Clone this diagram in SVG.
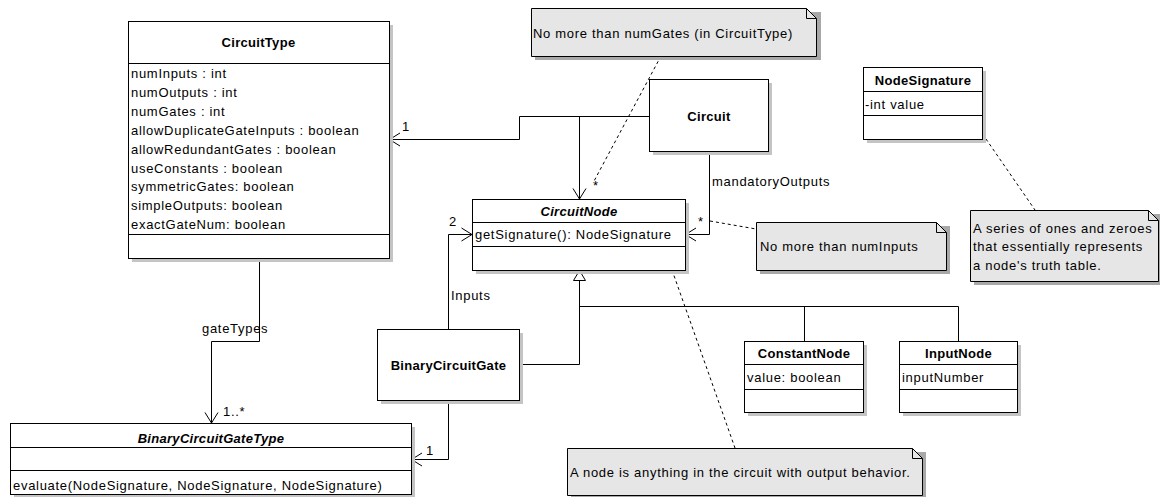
<svg xmlns="http://www.w3.org/2000/svg" width="1160" height="497" viewBox="0 0 1160 497">
<defs>
<style>
text{font-family:"Liberation Sans",Arial,sans-serif;font-size:13px;letter-spacing:0.7px;fill:#000}
.t{font-weight:bold;text-anchor:middle;letter-spacing:0.3px}
.ti{font-weight:bold;font-style:italic;text-anchor:middle;letter-spacing:0.3px}
.box{fill:#fff;stroke:#000;stroke-width:1}
.sh{fill:#c4c4c4}
.nsh{fill:#a8a8a8}
.note{fill:#e6e6e6;stroke:#000;stroke-width:1}
.fold{fill:none;stroke:#000;stroke-width:1}
.div{stroke:#000;stroke-width:1}
.ln{fill:none;stroke:#000;stroke-width:1}
.dash{fill:none;stroke:#000;stroke-width:1;stroke-dasharray:3,3}
</style>
</defs>
<rect width="1160" height="497" fill="#fff"/>

<g id="connectors">
<path class="ln" d="M649.5,116.5 H519.5 V139.5 H389.5"/>
<path class="ln" d="M400,133 L389.5,139.5 L400,146"/>
<path class="ln" d="M579.5,116.5 V199"/>
<path class="ln" d="M573,188.5 L579.5,199 L586,188.5"/>
<path class="ln" d="M709.5,151 V234.5 H685.5"/>
<path class="ln" d="M696,228 L685.5,234.5 L696,241"/>
<path class="ln" d="M448.5,329 V234.5 H472"/>
<path class="ln" d="M461.5,228 L472,234.5 L461.5,241"/>
<path class="ln" d="M448.5,400 V459.5 H411.5"/>
<path class="ln" d="M422,453 L411.5,459.5 L422,466"/>
<path class="ln" d="M259.5,258 V341.5 H211.5 V423"/>
<path class="ln" d="M205,412.5 L211.5,423 L218,412.5"/>
<path class="ln" d="M519,364.5 H579.5 V280"/>
<path class="ln" d="M804.5,341 V306.5 M958.5,341 V306.5 H579.5"/>
<path fill="#fff" stroke="#000" d="M579.5,270.5 L573.5,280.5 L585.5,280.5 Z"/>
<path class="dash" d="M661,56 L593,183"/>
<path class="dash" d="M710,221 L756,229"/>
<path class="dash" d="M986,139 L1035,210"/>
<path class="dash" d="M672,270 L735,448"/>
<text x="402" y="131">1</text>
<text x="593" y="190">*</text>
<text x="712" y="186">mandatoryOutputs</text>
<text x="698" y="226">*</text>
<text x="449" y="226">2</text>
<text x="451" y="300">Inputs</text>
<text x="202" y="333">gateTypes</text>
<text x="223" y="416">1..*</text>
<text x="426" y="455">1</text>
</g>

<g id="CircuitType">
<rect class="sh" x="132" y="25" width="261" height="237"/>
<rect class="box" x="128.5" y="21.5" width="261" height="237"/>
<line class="div" x1="128.5" y1="63.5" x2="389.5" y2="63.5"/>
<line class="div" x1="128.5" y1="234.5" x2="389.5" y2="234.5"/>
<text class="t" x="258.5" y="47">CircuitType</text>
<text x="131" y="78">numInputs : int</text>
<text x="131" y="97">numOutputs : int</text>
<text x="131" y="116">numGates : int</text>
<text x="131" y="135">allowDuplicateGateInputs : boolean</text>
<text x="131" y="153.5">allowRedundantGates : boolean</text>
<text x="131" y="172.5">useConstants : boolean</text>
<text x="131" y="191">symmetricGates: boolean</text>
<text x="131" y="210">simpleOutputs: boolean</text>
<text x="131" y="229">exactGateNum: boolean</text>
</g>

<g id="Circuit">
<rect class="sh" x="653" y="83" width="119" height="72"/>
<rect class="box" x="649.5" y="79.5" width="119" height="72"/>
<text class="t" x="709" y="121">Circuit</text>
</g>

<g id="CircuitNode">
<rect class="sh" x="476" y="203" width="213" height="71"/>
<rect class="box" x="472.5" y="199.5" width="213" height="71"/>
<line class="div" x1="472.5" y1="222.5" x2="685.5" y2="222.5"/>
<line class="div" x1="472.5" y1="246.5" x2="685.5" y2="246.5"/>
<text class="ti" x="579" y="215.5">CircuitNode</text>
<text x="475" y="238.5">getSignature(): NodeSignature</text>
</g>

<g id="BinaryCircuitGate">
<rect class="sh" x="381" y="333" width="142" height="71"/>
<rect class="box" x="377.5" y="329.5" width="142" height="71"/>
<text class="t" x="448.5" y="369.5">BinaryCircuitGate</text>
</g>

<g id="BinaryCircuitGateType">
<rect class="sh" x="14" y="427" width="401" height="71"/>
<rect class="box" x="10.5" y="423.5" width="401" height="71"/>
<line class="div" x1="10.5" y1="447.5" x2="411.5" y2="447.5"/>
<line class="div" x1="10.5" y1="470.5" x2="411.5" y2="470.5"/>
<text class="ti" x="211" y="443">BinaryCircuitGateType</text>
<text x="13" y="490">evaluate(NodeSignature, NodeSignature, NodeSignature)</text>
</g>

<g id="NodeSignature">
<rect class="sh" x="867" y="71" width="119" height="72"/>
<rect class="box" x="863.5" y="67.5" width="119" height="72"/>
<line class="div" x1="863.5" y1="91.5" x2="982.5" y2="91.5"/>
<line class="div" x1="863.5" y1="115.5" x2="982.5" y2="115.5"/>
<text class="t" x="923" y="85">NodeSignature</text>
<text x="865" y="108.5">-int value</text>
</g>

<g id="ConstantNode">
<rect class="sh" x="748" y="345" width="119" height="71"/>
<rect class="box" x="744.5" y="341.5" width="119" height="71"/>
<line class="div" x1="744.5" y1="364.5" x2="863.5" y2="364.5"/>
<line class="div" x1="744.5" y1="389.5" x2="863.5" y2="389.5"/>
<text class="t" x="804" y="358">ConstantNode</text>
<text x="747" y="382">value: boolean</text>
</g>

<g id="InputNode">
<rect class="sh" x="903" y="345" width="118" height="71"/>
<rect class="box" x="899.5" y="341.5" width="118" height="71"/>
<line class="div" x1="899.5" y1="364.5" x2="1017.5" y2="364.5"/>
<line class="div" x1="899.5" y1="389.5" x2="1017.5" y2="389.5"/>
<text class="t" x="958.5" y="358">InputNode</text>
<text x="902" y="382">inputNumber</text>
</g>

<g id="note-numGates">
<path class="nsh" d="M535,12 H821 V60 H535 Z"/>
<path class="note" d="M531.5,8.5 H806.5 L816.5,18.5 V56.5 H531.5 Z"/>
<path class="fold" d="M806.5,8.5 V18.5 H816.5"/>
<text x="533" y="37.5">No more than numGates (in CircuitType)</text>
</g>

<g id="note-numInputs">
<path class="nsh" d="M760,226 H950 V274 H760 Z"/>
<path class="note" d="M756.5,222.5 H936.5 L946.5,232.5 V270.5 H756.5 Z"/>
<path class="fold" d="M936.5,222.5 V232.5 H946.5"/>
<text x="760" y="251">No more than numInputs</text>
</g>

<g id="note-node">
<path class="nsh" d="M571,452 H926 V499 H571 Z"/>
<path class="note" d="M567.5,448.5 H912.5 L922.5,458.5 V495.5 H567.5 Z"/>
<path class="fold" d="M912.5,448.5 V458.5 H922.5"/>
<text x="570" y="477">A node is anything in the circuit with output behavior.</text>
</g>

<g id="note-truth">
<path class="nsh" d="M974,214 H1162 V285 H974 Z"/>
<path class="note" d="M970.5,210.5 H1148.5 L1158.5,220.5 V281.5 H970.5 Z"/>
<path class="fold" d="M1148.5,210.5 V220.5 H1158.5"/>
<text x="973" y="233">A series of ones and zeroes</text>
<text x="973" y="251">that essentially represents</text>
<text x="973" y="269.5">a node's truth table.</text>
</g>
</svg>
